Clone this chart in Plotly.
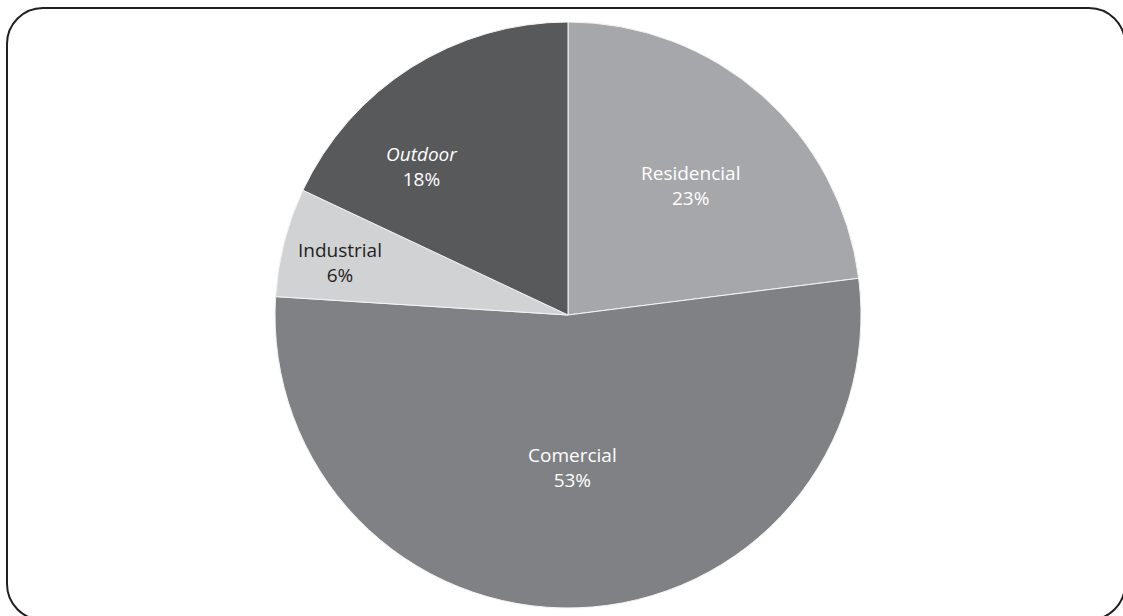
import math
import plotly.graph_objects as go

# Share of consumption by segment (percent), clockwise from 12 o'clock
categories = ["Residencial", "Comercial", "Industrial", "Outdoor"]
shares = [23, 53, 6, 18]

colors = ["#a6a7aa", "#808184", "#d1d2d4", "#58595b"]
text_colors = ["#ffffff", "#ffffff", "#231f20", "#ffffff"]
italic = [False, False, False, True]
# label placement: fraction of radius and angular nudge (degrees) from slice middle
label_r = [0.61, 0.52, 0.80, 0.71]
label_nudge = [2.0, 0.0, -1.5, -12.0]

W, H = 1123, 616
cx, cy, R = 568, 315, 293  # pie centre and radius, pixels

fig = go.Figure(
    go.Pie(
        labels=categories,
        values=shares,
        sort=False,
        direction="clockwise",
        rotation=0,
        marker=dict(colors=colors, line=dict(color="#f4f4f5", width=1)),
        textinfo="none",
        hoverinfo="label+percent",
        showlegend=False,
        domain=dict(x=[(cx - R) / W, (cx + R) / W],
                    y=[(H - cy - R) / H, (H - cy + R) / H]),
    )
)

# slice labels placed from the cumulative shares
total = sum(shares)
annotations = []
start = 0.0
for i, (name, v) in enumerate(zip(categories, shares)):
    mid = (start + v / 2) / total * 360.0 + label_nudge[i]
    start += v
    r = label_r[i] * R
    px = cx + r * math.sin(math.radians(mid))
    py = cy - r * math.cos(math.radians(mid))
    title = f"<i>{name}</i>" if italic[i] else name
    annotations.append(dict(
        x=px / W, y=1 - py / H, xref="paper", yref="paper",
        text=f"{title}<br>{round(v / total * 100)}%",
        showarrow=False, xanchor="center", yanchor="middle", align="center",
        font=dict(family="Open Sans", size=19, color=text_colors[i]),
    ))

# rounded frame around the chart (pixel geometry converted to paper units)
x0, y0, x1, y1, rr = 7, 8, 1125, 620, 36
k = 0.5523 * rr


def P(x, y):
    return f"{x / W:.5f},{1 - y / H:.5f}"


frame = (
    f"M {P(x0 + rr, y0)} L {P(x1 - rr, y0)} "
    f"C {P(x1 - rr + k, y0)} {P(x1, y0 + rr - k)} {P(x1, y0 + rr)} "
    f"L {P(x1, y1 - rr)} "
    f"C {P(x1, y1 - rr + k)} {P(x1 - rr + k, y1)} {P(x1 - rr, y1)} "
    f"L {P(x0 + rr, y1)} "
    f"C {P(x0 + rr - k, y1)} {P(x0, y1 - rr + k)} {P(x0, y1 - rr)} "
    f"L {P(x0, y0 + rr)} "
    f"C {P(x0, y0 + rr - k)} {P(x0 + rr - k, y0)} {P(x0 + rr, y0)} Z"
)

fig.update_layout(
    width=W, height=H,
    margin=dict(l=0, r=0, t=0, b=0),
    paper_bgcolor="#ffffff",
    plot_bgcolor="#ffffff",
    annotations=annotations,
    shapes=[dict(type="path", path=frame, xref="paper", yref="paper",
                 line=dict(color="#231f20", width=2), layer="below")],
)

fig.write_html("out.html")
